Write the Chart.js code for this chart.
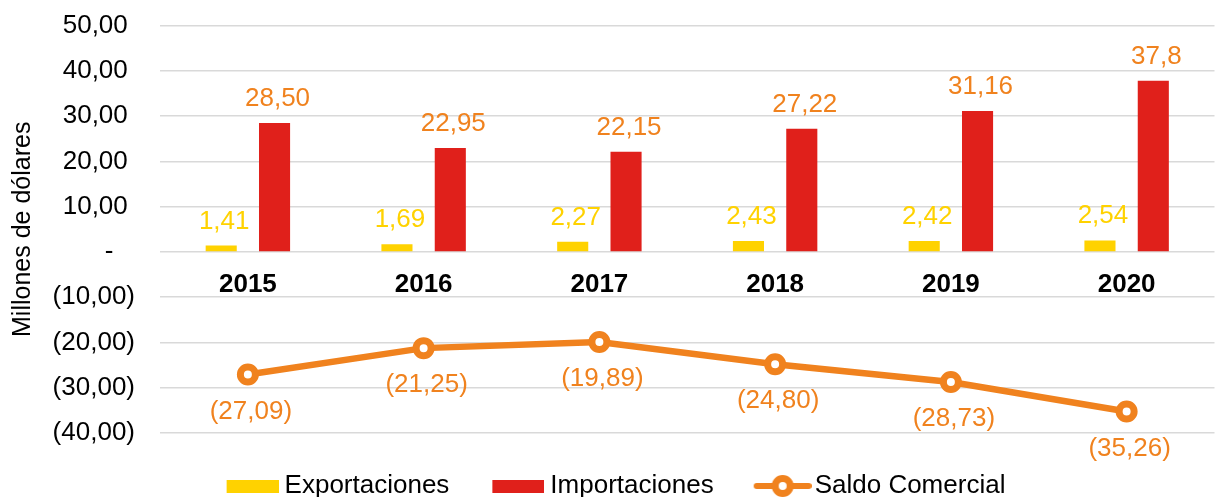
<!DOCTYPE html>
<html>
<head>
<meta charset="utf-8">
<script src="https://cdn.jsdelivr.net/npm/chart.js@4/dist/chart.umd.min.js"></script>
<style>
  html, body { margin: 0; padding: 0; background: #fff; overflow: hidden; }
  #wrap { width: 1219px; height: 497px; overflow: hidden; }
  #balanza { display: block; margin-top: -15px; }
</style>
</head>
<body>
<div id="wrap"><canvas id="balanza" width="1229" height="524"></canvas></div>
<script>
const years = ['2015', '2016', '2017', '2018', '2019', '2020']
const exportaciones = [1.41, 1.69, 2.27, 2.43, 2.42, 2.54]
const importaciones = [28.50, 22.95, 22.15, 27.22, 31.16, 37.8]
const saldo = [-27.09, -21.25, -19.89, -24.80, -28.73, -35.26]
// the 2020 import label is shown with one decimal in the original
const importLabels = ['28,50', '22,95', '22,15', '27,22', '31,16', '37,8']
const yTicks = [50, 40, 30, 20, 10, 0, -10, -20, -30, -40]

const yellow = '#FFD200'
const red = '#E0201B'
const orange = '#F0821E'

Chart.defaults.font.family = '"Liberation Sans", Arial, sans-serif'

const comma = v => Math.abs(v).toFixed(2).replace('.', ',')

function yTickLabel(v) {
    if (v > 0) return comma(v) + ' '
    if (v < 0) return '(' + comma(v) + ')'
    return '-   '
}

// value labels per dataset
const dataLabels = [
    exportaciones.map(comma),
    importLabels,
    saldo.map(v => '(' + comma(v) + ')')
]
const labelColors = [yellow, orange, orange]

function barIcon(color) {
    const c = document.createElement('canvas')
    c.width = 62
    c.height = 13
    const g = c.getContext('2d')
    g.fillStyle = color
    g.fillRect(10, 0, 52, 13)
    return c
}

function lineIcon(color) {
    const c = document.createElement('canvas')
    c.width = 68
    c.height = 26
    const g = c.getContext('2d')
    g.strokeStyle = color
    g.lineWidth = 6
    g.lineCap = 'round'
    g.beginPath()
    g.moveTo(13, 13)
    g.lineTo(65, 13)
    g.stroke()
    g.lineWidth = 7
    g.beginPath()
    g.arc(39, 13, 7.5, 0, Math.PI * 2)
    g.fillStyle = '#fff'
    g.fill()
    g.stroke()
    return c
}

const legendIcons = [barIcon(yellow), barIcon(red), lineIcon(orange)]

const valueLabels = {
    id: 'valueLabels',
    afterDatasetsDraw(chart) {
        const ctx = chart.ctx
        ctx.save()
        ctx.font = '26px "Liberation Sans", Arial, sans-serif'
        ctx.textAlign = 'center'
        chart.data.datasets.forEach((ds, i) => {
            const meta = chart.getDatasetMeta(i)
            ctx.fillStyle = labelColors[i]
            meta.data.forEach((el, j) => {
                if (meta.type === 'bar') {
                    ctx.textBaseline = 'alphabetic'
                    ctx.fillText(dataLabels[i][j], el.x + 3, el.y - 17)
                } else {
                    ctx.textBaseline = 'middle'
                    ctx.fillText(dataLabels[i][j], el.x + 3, el.y + 37)
                }
            })
        })
        ctx.restore()
    }
}

new Chart(document.getElementById('balanza'), {
    type: 'bar',
    data: {
        labels: years,
        datasets: [
            {
                label: 'Exportaciones',
                data: exportaciones,
                backgroundColor: yellow,
                categoryPercentage: 0.607,
                barPercentage: 0.583
            },
            {
                label: 'Importaciones',
                data: importaciones,
                backgroundColor: red,
                categoryPercentage: 0.607,
                barPercentage: 0.583
            },
            {
                type: 'line',
                label: 'Saldo Comercial',
                data: saldo,
                borderColor: orange,
                backgroundColor: orange,
                borderWidth: 6.5,
                pointRadius: 7.5,
                pointBorderWidth: 7,
                pointBackgroundColor: '#fff',
                pointBorderColor: orange,
                tension: 0
            }
        ]
    },
    options: {
        responsive: false,
        animation: false,
        layout: { padding: { top: 10, left: 0, right: 0, bottom: 0 } },
        plugins: {
            tooltip: { enabled: false },
            legend: {
                position: 'bottom',
                labels: {
                    usePointStyle: true,
                    pointStyleWidth: 48,
                    padding: 40,
                    color: '#000',
                    font: { size: 26 },
                    generateLabels(chart) {
                        const items = Chart.defaults.plugins.legend.labels.generateLabels(chart)
                        items.forEach(it => { it.pointStyle = legendIcons[it.datasetIndex] })
                        return items
                    }
                }
            }
        },
        scales: {
            x: {
                position: { y: 0 },
                grid: { display: false, drawTicks: false },
                border: { display: false },
                ticks: { color: '#000', font: { size: 26, weight: 'bold' }, padding: 17 }
            },
            y: {
                min: Math.min(...yTicks),
                max: Math.max(...yTicks),
                ticks: {
                    stepSize: yTicks[0] - yTicks[1],
                    padding: 25,
                    color: '#000',
                    font: { size: 26 },
                    callback: yTickLabel
                },
                grid: { color: '#D9D9D9', lineWidth: 1.5, drawTicks: false },
                border: { display: false },
                title: {
                    display: true,
                    text: 'Millones de dólares',
                    color: '#000',
                    font: { size: 25 },
                    padding: { top: 8, bottom: 0 }
                },
                afterFit(scale) { scale.width = 160 }
            }
        }
    },
    plugins: [valueLabels]
})
</script>
</body>
</html>
